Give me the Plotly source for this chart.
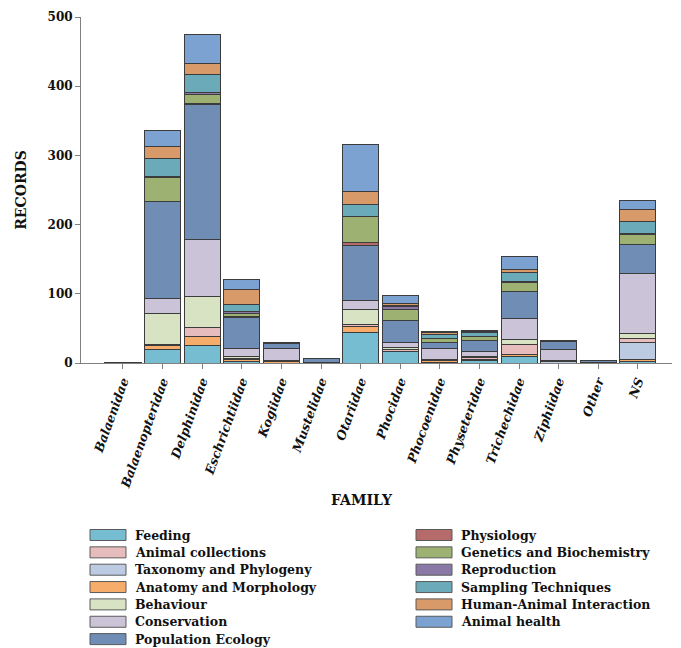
import plotly.graph_objects as go

families = ['Balaenidae', 'Balaenopteridae', 'Delphinidae', 'Eschrichtiidae', 'Kogiidae',
            'Mustelidae', 'Otariidae', 'Phocidae', 'Phocoenidae', 'Physeteridae',
            'Trichechidae', 'Ziphiidae', 'Other', 'NS']

# Records per research topic, one value per family (stacked bottom to top)
feeding            = [0, 19, 26, 2, 0, 0, 44, 16, 1, 3, 9, 0, 0, 2]
anatomy            = [0, 7, 12, 3, 2, 0, 9, 1, 3, 2, 4, 0, 0, 3]
taxonomy           = [0, 1, 0, 0, 1, 0, 0, 0, 0, 0, 0, 2, 0, 25]
animal_collections = [0, 0, 13, 2, 0, 0, 3, 2, 0, 3, 14, 0, 0, 6]
behaviour          = [0, 44, 45, 2, 1, 0, 21, 3, 1, 2, 7, 2, 0, 6]
conservation       = [1, 22, 82, 12, 17, 1, 14, 7, 16, 6, 31, 16, 1, 87]
population_ecology = [0, 140, 195, 45, 7, 5, 79, 32, 8, 16, 38, 11, 2, 42]
physiology         = [0, 1, 2, 1, 0, 0, 4, 1, 0, 0, 1, 0, 0, 0]
genetics           = [0, 34, 13, 5, 0, 0, 37, 16, 6, 6, 13, 0, 0, 15]
reproduction       = [0, 1, 3, 3, 1, 0, 1, 4, 1, 1, 1, 0, 0, 1]
sampling           = [0, 26, 26, 10, 0, 0, 17, 1, 5, 5, 13, 0, 0, 17]
human_interaction  = [0, 18, 16, 21, 0, 0, 19, 3, 3, 1, 4, 0, 0, 18]
animal_health      = [0, 23, 42, 15, 0, 0, 68, 11, 1, 2, 19, 2, 0, 13]

# (name, values, colour, legend column, legend row)
series = [
    ('Feeding', feeding, '#77bdd1', 0, 0),
    ('Anatomy and Morphology', anatomy, '#f6ad6c', 0, 3),
    ('Taxonomy and Phylogeny', taxonomy, '#bccbe2', 0, 2),
    ('Animal collections', animal_collections, '#e6bcbd', 0, 1),
    ('Behaviour', behaviour, '#d8e3c3', 0, 4),
    ('Conservation', conservation, '#cbc3d8', 0, 5),
    ('Population Ecology', population_ecology, '#6f8db5', 0, 6),
    ('Physiology', physiology, '#b46b6a', 1, 0),
    ('Genetics and Biochemistry', genetics, '#9db173', 1, 1),
    ('Reproduction', reproduction, '#8a78a6', 1, 2),
    ('Sampling Techniques', sampling, '#6baab9', 1, 3),
    ('Human-Animal Interaction', human_interaction, '#d99a69', 1, 4),
    ('Animal health', animal_health, '#7ca2d2', 1, 5),
]

serif = 'DejaVu Serif'
W, H = 681, 648
ML, MR, MT, MB = 81, 9, 17, 285
plot_w, plot_h = W - ML - MR, H - MT - MB


def px_x(px):
    return (px - ML) / plot_w


def px_y(py):
    return (H - MB - py) / plot_h


fig = go.Figure()
for name, vals, color, col, row in series:
    fig.add_trace(go.Bar(
        x=list(range(len(families))), y=vals, name=name,
        marker=dict(color=color, line=dict(color='#3c3c3c', width=1)),
        width=0.91,
    ))

# Two-column key below the axis: swatch + label per topic
shapes, annotations = [], []
col_x = [90, 416]
row0, row_step = 535, 17.35
sw_w, sw_h = 36, 11
for name, vals, color, col, row in series:
    cy = row0 + row * row_step
    x0 = col_x[col]
    shapes.append(dict(
        type='rect', xref='paper', yref='paper',
        x0=px_x(x0), x1=px_x(x0 + sw_w),
        y0=px_y(cy - sw_h / 2), y1=px_y(cy + sw_h / 2),
        fillcolor=color, line=dict(color='#5a5a5a', width=1),
    ))
    annotations.append(dict(
        text=name, xref='paper', yref='paper',
        x=px_x(x0 + sw_w + 7), y=px_y(cy),
        xanchor='left', yanchor='middle', showarrow=False,
        font=dict(family=serif, size=12.5, color='#111111', weight='bold'),
    ))

annotations.append(dict(
    text='FAMILY', xref='paper', yref='paper', x=px_x(362), y=px_y(500),
    xanchor='center', yanchor='middle', showarrow=False,
    font=dict(family=serif, size=14, color='#111111', weight='bold'),
))

fig.update_layout(
    width=W, height=H,
    margin=dict(l=ML, r=MR, t=MT, b=MB),
    barmode='stack',
    plot_bgcolor='white', paper_bgcolor='white',
    showlegend=False,
    xaxis=dict(
        tickmode='array', tickvals=list(range(len(families))), ticktext=families,
        range=[-1.06, 13.86], tickangle=-70,
        tickfont=dict(family=serif, size=12.5, color='#111111', weight='bold', style='italic'),
        showline=True, linecolor='#808080', linewidth=1,
        ticks='outside', ticklen=5, tickcolor='#808080',
        showgrid=False, zeroline=False, automargin=False,
    ),
    yaxis=dict(
        range=[0, 500], tickvals=[0, 100, 200, 300, 400, 500],
        tickfont=dict(family=serif, size=12, color='#111111', weight='bold'),
        showline=True, linecolor='#808080', linewidth=1,
        ticks='outside', ticklen=5, tickcolor='#808080',
        showgrid=False, zeroline=False, automargin=False,
        title=dict(text='RECORDS', standoff=17,
                   font=dict(family=serif, size=14, color='#111111', weight='bold')),
    ),
    shapes=shapes,
    annotations=annotations,
)

fig.write_html('out.html')
